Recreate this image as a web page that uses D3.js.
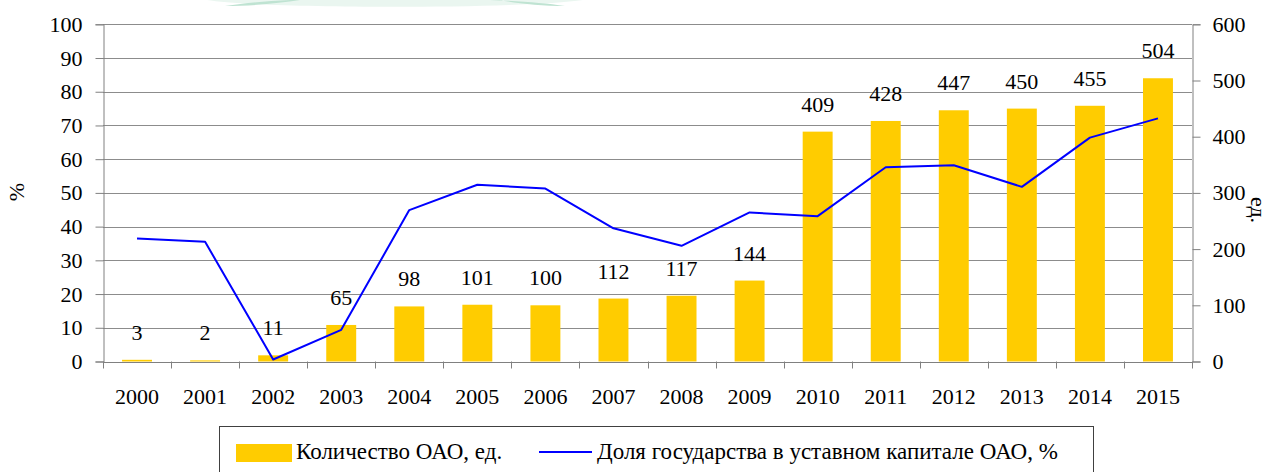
<!DOCTYPE html>
<html>
<head>
<meta charset="utf-8">
<script src="https://cdn.jsdelivr.net/npm/d3@7"></script>
<style>
  html, body { margin: 0; padding: 0; background: #fff; }
  svg { display: block; }
  svg text { font-family: "Liberation Serif", "Times New Roman", serif !important; fill: #000; }
</style>
</head>
<body>
<svg id="chart" width="1272" height="472"></svg>
<script>
// Годы, количество ОАО и доля государства в уставном капитале
const years = ["2000","2001","2002","2003","2004","2005","2006","2007","2008","2009","2010","2011","2012","2013","2014","2015"];
const companyCount = [3, 2, 11, 65, 98, 101, 100, 112, 117, 144, 409, 428, 447, 450, 455, 504];
const stateShare = [36.5, 35.5, 0.6, 9.4, 44.9, 52.4, 51.3, 39.5, 34.3, 44.2, 43.1, 57.6, 58.2, 51.8, 66.4, 72.1];
const leftTicks = [0, 10, 20, 30, 40, 50, 60, 70, 80, 90, 100];
const rightTicks = [0, 100, 200, 300, 400, 500, 600];
const legendLabels = ["Количество ОАО, ед.", "Доля государства в уставном капитале ОАО, %"];

const svg = d3.select("#chart");
const plot = { left: 103, right: 1192, top: 24.3, bottom: 361.5 };
const barColor = "#ffcc00";
const lineColor = "#0000ff";
const fontSize = 22;

// Декоративная полоса логотипа вверху страницы
const deco = svg.append("g");
deco.append("path")
  .attr("d", "M207,0 C260,9 520,9 583,0 Z")
  .attr("fill", "#eaf6f0");
deco.append("path")
  .attr("d", "M225,6 C245,3 265,1 290,0 L300,0 C280,3 255,6 225,6 Z")
  .attr("fill", "#bfe3d2");
deco.append("path")
  .attr("d", "M490,0 C520,1 545,3 565,6 C540,6 515,3 500,0 Z")
  .attr("fill", "#bfe3d2");

const x = d3.scaleBand()
  .domain(years)
  .range([plot.left, plot.right])
  .paddingInner(0.56)
  .paddingOuter(0.28);

const yLeft = d3.scaleLinear().domain([0, 100]).range([plot.bottom, plot.top]);
const yRight = d3.scaleLinear().domain([0, 600]).range([plot.bottom, plot.top]);

// Горизонтальная сетка по левой оси
svg.append("g")
  .selectAll("line")
  .data(leftTicks.filter(d => d > 0))
  .join("line")
  .attr("x1", plot.left).attr("x2", plot.right)
  .attr("y1", d => Math.round(yLeft(d)) + 0.5)
  .attr("y2", d => Math.round(yLeft(d)) + 0.5)
  .attr("stroke", "#8c8c8c")
  .attr("stroke-width", 1);

// Столбцы: количество ОАО
svg.append("g")
  .selectAll("rect")
  .data(companyCount)
  .join("rect")
  .attr("x", (d, i) => x(years[i]))
  .attr("width", x.bandwidth())
  .attr("y", d => yRight(d))
  .attr("height", d => plot.bottom - yRight(d))
  .attr("fill", barColor);

// Подписи значений над столбцами
svg.append("g")
  .selectAll("text")
  .data(companyCount)
  .join("text")
  .attr("x", (d, i) => x(years[i]) + x.bandwidth() / 2)
  .attr("y", d => yRight(d) - 20)
  .attr("text-anchor", "middle")
  .attr("font-size", fontSize)
  .text(d => d);

// Линия: доля государства
const line = d3.line()
  .x((d, i) => x(years[i]) + x.bandwidth() / 2)
  .y(d => yLeft(d));
svg.append("path")
  .datum(stateShare)
  .attr("d", line)
  .attr("fill", "none")
  .attr("stroke", lineColor)
  .attr("stroke-width", 2)
  .attr("stroke-linejoin", "round");

// Ось X
const xAxis = svg.append("g");
xAxis.append("line")
  .attr("x1", plot.left).attr("x2", plot.right)
  .attr("y1", Math.round(plot.bottom) + 0.5).attr("y2", Math.round(plot.bottom) + 0.5)
  .attr("stroke", "#808080");
const boundaries = years.map(y => x(y) - x.step() * x.paddingInner() / 2).concat([plot.right]);
xAxis.selectAll("line.tick")
  .data(boundaries)
  .join("line")
  .attr("class", "tick")
  .attr("x1", d => Math.round(d) + 0.5).attr("x2", d => Math.round(d) + 0.5)
  .attr("y1", plot.bottom).attr("y2", plot.bottom + 7)
  .attr("stroke", "#808080");
xAxis.selectAll("text")
  .data(years)
  .join("text")
  .attr("x", d => x(d) + x.bandwidth() / 2)
  .attr("y", 404)
  .attr("text-anchor", "middle")
  .attr("font-size", fontSize)
  .text(d => d);

// Левая ось (%)
const axisLeft = d3.axisLeft(yLeft).tickValues(leftTicks).tickSize(8).tickPadding(13);
const gl = svg.append("g").attr("transform", `translate(${plot.left + 0.5},0)`).call(axisLeft);
gl.attr("font-family", null);
gl.select(".domain").attr("stroke", "#808080");
gl.selectAll(".tick line").attr("stroke", "#808080");
gl.selectAll(".tick text").attr("font-size", fontSize).attr("fill", "#000");

// Правая ось (ед.)
const axisRight = d3.axisRight(yRight).tickValues(rightTicks).tickSize(8).tickPadding(12);
const gr = svg.append("g").attr("transform", `translate(${plot.right + 0.5},0)`).call(axisRight);
gr.attr("font-family", null);
gr.select(".domain").attr("stroke", "#808080");
gr.selectAll(".tick line").attr("stroke", "#808080");
gr.selectAll(".tick text").attr("font-size", fontSize).attr("fill", "#000");

// Подписи осей
svg.append("text")
  .attr("transform", "translate(24,192) rotate(-90)")
  .attr("text-anchor", "middle")
  .attr("font-size", fontSize)
  .text("%");
svg.append("text")
  .attr("transform", "translate(1251,210) rotate(90)")
  .attr("text-anchor", "middle")
  .attr("font-size", fontSize)
  .text("ед.");

// Легенда
const legend = svg.append("g");
legend.append("rect")
  .attr("x", 219.5).attr("y", 426.5)
  .attr("width", 874).attr("height", 60)
  .attr("fill", "#fff")
  .attr("stroke", "#404040");
legend.append("rect")
  .attr("x", 236).attr("y", 444)
  .attr("width", 56).attr("height", 18)
  .attr("fill", barColor);
legend.append("text")
  .attr("x", 296).attr("y", 459)
  .attr("font-size", 23)
  .text(legendLabels[0]);
legend.append("line")
  .attr("x1", 539).attr("x2", 592)
  .attr("y1", 452).attr("y2", 452)
  .attr("stroke", lineColor).attr("stroke-width", 2);
legend.append("text")
  .attr("x", 597).attr("y", 459)
  .attr("font-size", 23)
  .text(legendLabels[1]);
</script>
</body>
</html>
